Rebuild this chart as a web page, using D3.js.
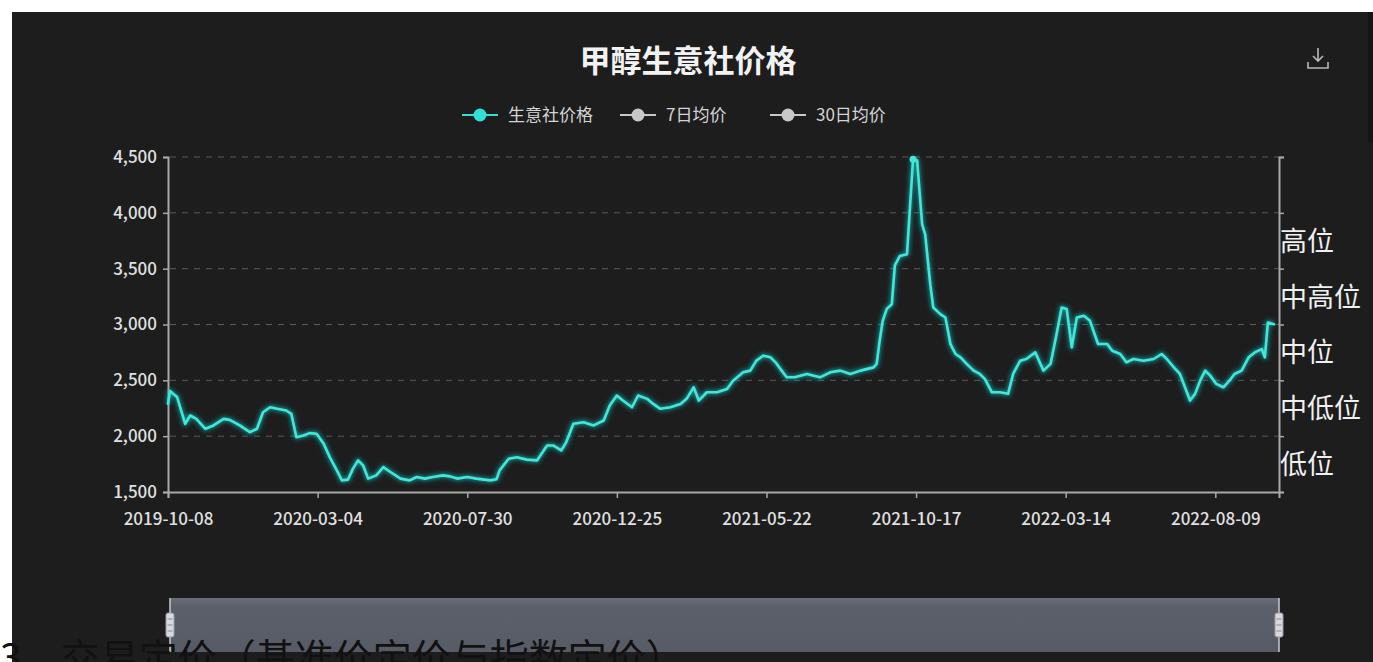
<!DOCTYPE html>
<html><head><meta charset="utf-8">
<script src="https://cdn.jsdelivr.net/npm/d3@7"></script>
<style>
html,body{margin:0;padding:0;background:#fff;overflow:hidden;}
svg{display:block;}
</style></head>
<body>
<svg id="c" width="1373" height="662"></svg>
<script>
const titleText = "甲醇生意社价格";
const seriesNames = ["生意社价格", "7日均价", "30日均价"];
const xTickLabels = ["2019-10-08","2020-03-04","2020-07-30","2020-12-25","2021-05-22","2021-10-17","2022-03-14","2022-08-09"];
const xDomain = ["2019-10-08","2022-10-11"];
const yTicks = [1500,2000,2500,3000,3500,4000,4500];
const levelLabels = ["低位","中低位","中位","中高位","高位",""];
const footText = "3、交易定价（基准价定价与指数定价）";

const dates = ["2019-10-08","2019-10-10","2019-10-13","2019-10-17","2019-10-23","2019-10-25","2019-10-30","2019-11-05","2019-11-14","2019-11-22",
"2019-12-02","2019-12-08","2019-12-18","2019-12-28","2020-01-04","2020-01-10","2020-01-17","2020-01-24","2020-02-02","2020-02-07",
"2020-02-12","2020-02-19","2020-02-25","2020-03-03","2020-03-10","2020-03-16","2020-03-23","2020-03-28","2020-04-03","2020-04-08",
"2020-04-13","2020-04-18","2020-04-23","2020-05-01","2020-05-08","2020-05-15","2020-05-25","2020-06-03","2020-06-10","2020-06-18",
"2020-06-26","2020-07-06","2020-07-13","2020-07-20","2020-07-30","2020-08-08","2020-08-22","2020-08-28","2020-08-31","2020-09-09",
"2020-09-17","2020-09-27","2020-10-07","2020-10-17","2020-10-23","2020-10-31","2020-11-05","2020-11-12","2020-11-22","2020-12-02",
"2020-12-12","2020-12-18","2020-12-25","2020-12-31","2021-01-09","2021-01-15","2021-01-24","2021-01-30","2021-02-06","2021-02-16",
"2021-02-26","2021-03-04","2021-03-11","2021-03-16","2021-03-24","2021-04-03","2021-04-13","2021-04-19","2021-04-29","2021-05-06",
"2021-05-12","2021-05-19","2021-05-26","2021-05-31","2021-06-06","2021-06-11","2021-06-19","2021-07-01","2021-07-14","2021-07-24",
"2021-08-03","2021-08-13","2021-08-23","2021-09-05","2021-09-08","2021-09-11","2021-09-14","2021-09-18","2021-09-23","2021-09-26",
"2021-10-01","2021-10-08","2021-10-14","2021-10-18","2021-10-23","2021-10-26","2021-10-31","2021-11-03","2021-11-10","2021-11-15",
"2021-11-20","2021-11-25","2021-11-30","2021-12-06","2021-12-13","2021-12-19","2021-12-24","2021-12-31","2022-01-08","2022-01-16",
"2022-01-21","2022-01-28","2022-02-03","2022-02-12","2022-02-20","2022-02-27","2022-03-05","2022-03-10","2022-03-15","2022-03-20",
"2022-03-25","2022-04-01","2022-04-07","2022-04-15","2022-04-24","2022-04-29","2022-05-07","2022-05-13","2022-05-20","2022-05-30",
"2022-06-09","2022-06-17","2022-06-22","2022-06-29","2022-07-05","2022-07-10","2022-07-15","2022-07-20","2022-07-25","2022-07-30",
"2022-08-04","2022-08-10","2022-08-17","2022-08-23","2022-08-28","2022-09-04","2022-09-11","2022-09-17","2022-09-24","2022-09-27",
"2022-09-30","2022-10-06"];
const prices = [2290,2405,2380,2350,2170,2110,2185,2155,2066,2096,
2155,2146,2096,2036,2066,2214,2259,2245,2230,2200,
1991,2006,2027,2021,1932,1812,1694,1604,1611,1709,
1783,1738,1620,1649,1723,1679,1620,1604,1634,1620,
1634,1649,1640,1620,1634,1620,1604,1615,1694,1798,
1812,1790,1783,1917,1917,1872,1947,2111,2125,2096,
2140,2274,2364,2319,2259,2364,2334,2289,2245,2259,
2289,2334,2438,2319,2393,2393,2423,2497,2572,2587,
2676,2721,2706,2661,2587,2527,2527,2557,2527,2572,
2587,2557,2587,2616,2647,2855,3033,3140,3182,3530,
3614,3629,4480,4470,3897,3807,3361,3152,3093,3063,
2825,2736,2706,2647,2587,2557,2513,2393,2393,2379,
2557,2676,2691,2750,2587,2647,2914,3152,3138,2795,
3063,3078,3033,2825,2825,2765,2736,2661,2691,2676,
2691,2736,2691,2616,2557,2438,2319,2379,2497,2587,
2542,2468,2438,2497,2557,2587,2706,2750,2780,2706,
3018,3003];

const parse = d3.utcParse("%Y-%m-%d");
const data = dates.map((d,i)=>({date:parse(d), v:prices[i]}));

const svg = d3.select("#c");
const font = "'Noto Sans CJK SC','Noto Sans',sans-serif";

// panel
svg.append("rect").attr("x",12).attr("y",12).attr("width",1361).attr("height",650).attr("fill","#1d1d1e");
svg.append("rect").attr("x",1368).attr("y",12).attr("width",5).attr("height",130).attr("fill","#151516");

const x = d3.scaleUtc().domain(xDomain.map(parse)).range([168,1279]);
const y = d3.scaleLinear().domain([1500,4500]).range([492,157]);
const yBand = d3.scaleBand().domain(levelLabels).range([492,157]);

// title
svg.append("text").attr("x",688).attr("y",72).attr("text-anchor","middle")
  .attr("fill","#f2f2f2").attr("font-family",font).attr("font-weight","bold").attr("font-size",31)
  .text(titleText);

// download icon
const ic = svg.append("g").attr("transform","translate(1318,60)").attr("stroke","#b8b8b8").attr("stroke-width",1.6).attr("fill","none");
ic.append("path").attr("d","M0,-12 V1 M-5,-4 L0,1 L5,-4");
ic.append("path").attr("d","M-10,2 V8 H10 V2");

// legend
const legendItems = [
  {name:seriesNames[0], x:462, color:"#2fe2d6"},
  {name:seriesNames[1], x:620, color:"#c8c8c8"},
  {name:seriesNames[2], x:770, color:"#c8c8c8"}
];
legendItems.forEach(it=>{
  const g = svg.append("g").attr("transform",`translate(${it.x},115)`);
  g.append("line").attr("x1",0).attr("x2",36).attr("stroke",it.color).attr("stroke-width",2);
  g.append("circle").attr("cx",18).attr("r",6.5).attr("fill",it.color);
  g.append("text").attr("x",46).attr("y",6).attr("fill","#d4d4d4").attr("font-family",font).attr("font-size",17).text(it.name);
});

// grid
svg.append("g").selectAll("line").data(yTicks.filter(t=>t>1500)).join("line")
  .attr("x1",170).attr("x2",1279).attr("y1",d=>y(d)).attr("y2",d=>y(d))
  .attr("stroke","#5a5a5a").attr("stroke-width",1).attr("stroke-dasharray","6,6");

// left axis
const yAxis = d3.axisLeft(y).tickValues(yTicks).tickSize(5).tickPadding(6).tickFormat(d3.format(","));
const gy = svg.append("g").attr("transform","translate(168,0)").call(yAxis);
gy.select(".domain").attr("stroke","#a8a8a8").attr("stroke-width",2);
gy.selectAll(".tick line").attr("stroke","#a8a8a8").attr("stroke-width",1.5);
gy.selectAll(".tick text").attr("fill","#e0e0e0").attr("font-family",font).attr("font-size",17).attr("font-weight",500);

// bottom axis
const xAxis = d3.axisBottom(x).tickValues(xTickLabels.map(parse)).tickSize(6).tickPadding(15).tickFormat(d3.utcFormat("%Y-%m-%d"));
const gx = svg.append("g").attr("transform","translate(0,492)").call(xAxis);
gx.select(".domain").attr("stroke","#a8a8a8").attr("stroke-width",2);
gx.selectAll(".tick line").attr("stroke","#a8a8a8").attr("stroke-width",1.5);
gx.selectAll(".tick text").attr("fill","#e0e0e0").attr("font-family",font).attr("font-size",17).attr("font-weight",500);

// right axis (levels)
const gr = svg.append("g").attr("transform","translate(1279,0)")
  .call(d3.axisRight(y).tickValues(yTicks).tickSize(5).tickFormat(""));
gr.select(".domain").attr("stroke","#a8a8a8").attr("stroke-width",2);
gr.selectAll(".tick line").attr("stroke","#a8a8a8").attr("stroke-width",1.5);
svg.append("g").selectAll("text").data(levelLabels).join("text")
  .attr("x",1280).attr("y",d=>yBand(d)+yBand.bandwidth()/2+10)
  .attr("fill","#f0f0f0").attr("font-family",font).attr("font-size",27).text(d=>d);

// line
const defs = svg.append("defs");
const f = defs.append("filter").attr("id","glow").attr("x","-5%").attr("y","-5%").attr("width","110%").attr("height","110%");
f.append("feGaussianBlur").attr("stdDeviation",2.2);
const line = d3.line().x(d=>x(d.date)).y(d=>y(d.v)).curve(d3.curveLinear);
svg.append("path").datum(data).attr("d",line).attr("fill","none").attr("stroke","#14b4b0")
  .attr("stroke-width",5).attr("stroke-opacity",0.7).attr("filter","url(#glow)").attr("stroke-linejoin","round");
svg.append("path").datum(data).attr("d",line).attr("fill","none").attr("stroke","#45e6da")
  .attr("stroke-width",2.6).attr("stroke-linejoin","round").attr("stroke-linecap","round");
const peak = data.reduce((a,b)=>b.v>a.v?b:a);
svg.append("circle").attr("cx",x(peak.date)).attr("cy",y(peak.v)).attr("r",3.5).attr("fill","#45e6da");

// data zoom slider
const sx0 = x.range()[0]+2, sx1 = x.range()[1];
const grad = defs.append("linearGradient").attr("id","sl").attr("x1",0).attr("y1",0).attr("x2",0).attr("y2",1);
grad.append("stop").attr("offset","0").attr("stop-color","#6a6e78");
grad.append("stop").attr("offset","0.15").attr("stop-color","#5c606b");
grad.append("stop").attr("offset","1").attr("stop-color","#575b66");
svg.append("rect").attr("x",sx0).attr("y",598).attr("width",sx1-sx0).attr("height",54).attr("fill","url(#sl)");
[sx0, sx1].forEach(hx=>{
  svg.append("line").attr("x1",hx).attr("x2",hx).attr("y1",598).attr("y2",652).attr("stroke","#c8c8d0").attr("stroke-width",1.5);
  svg.append("rect").attr("x",hx-4).attr("y",613).attr("width",8).attr("height",24).attr("rx",2)
    .attr("fill","#d8d8de").attr("stroke","#9a9aa4").attr("stroke-width",1);
  [619,625,631].forEach(ly=>svg.append("line").attr("x1",hx-2.5).attr("x2",hx+2.5).attr("y1",ly).attr("y2",ly).attr("stroke","#8a8a94").attr("stroke-width",1));
});

// foot text (cut off at bottom, as in the reference)
svg.append("text").attr("x",0).attr("y",672).attr("fill","#111").attr("font-family",font).attr("font-size",39).text(footText);
</script>
</body></html>
